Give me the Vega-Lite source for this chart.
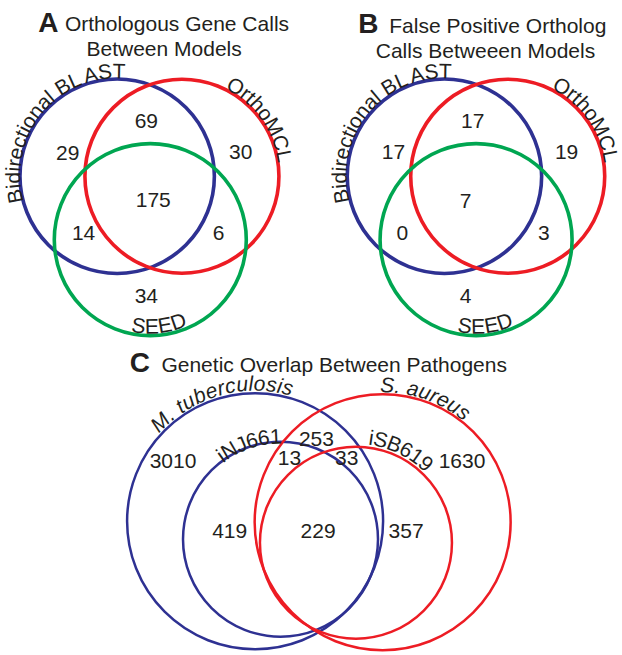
{
  "$schema": "https://vega.github.io/schema/vega-lite/v6.json",
  "width": 622,
  "height": 655,
  "autosize": {"type": "fit", "contains": "padding"},
  "padding": 0,
  "background": "white",
  "config": {"view": {"stroke": null}, "text": {"font": "Liberation Sans", "color": "#231F20"}},
  "datasets": {
    "circles": [
      {"panel": "A", "set": "Bidirectional BLAST", "x": 118.5, "y": 176.5, "r": 97.2},
      {"panel": "A", "set": "OrthoMCL", "x": 184, "y": 176.5, "r": 97},
      {"panel": "A", "set": "SEED", "x": 152, "y": 240, "r": 96},
      {"panel": "B", "set": "Bidirectional BLAST", "x": 449.5, "y": 176.5, "r": 97.2},
      {"panel": "B", "set": "OrthoMCL", "x": 513.5, "y": 176.5, "r": 97},
      {"panel": "B", "set": "SEED", "x": 481.5, "y": 240, "r": 96},
      {"panel": "C", "set": "M. tuberculosis", "x": 258, "y": 522, "r": 128},
      {"panel": "C", "set": "iNJ661", "x": 283.7, "y": 540, "r": 97.5},
      {"panel": "C", "set": "S. aureus", "x": 387, "y": 523, "r": 128},
      {"panel": "C", "set": "iSB619", "x": 360, "y": 543.5, "r": 96}
    ],
    "numbers": [
      {"panel": "A", "label": "69", "x": 148, "y": 122},
      {"panel": "A", "label": "29", "x": 68.5, "y": 154},
      {"panel": "A", "label": "30", "x": 243.5, "y": 153.5},
      {"panel": "A", "label": "175", "x": 155, "y": 201.5},
      {"panel": "A", "label": "14", "x": 84.5, "y": 234},
      {"panel": "A", "label": "6", "x": 221, "y": 234},
      {"panel": "A", "label": "34", "x": 148, "y": 297},
      {"panel": "B", "label": "17", "x": 478, "y": 122},
      {"panel": "B", "label": "17", "x": 398, "y": 153.5},
      {"panel": "B", "label": "19", "x": 573, "y": 153.5},
      {"panel": "B", "label": "7", "x": 471, "y": 202},
      {"panel": "B", "label": "0", "x": 407, "y": 234},
      {"panel": "B", "label": "3", "x": 550, "y": 234},
      {"panel": "B", "label": "4", "x": 471, "y": 297},
      {"panel": "C", "label": "3010", "x": 175, "y": 462.7},
      {"panel": "C", "label": "253", "x": 320, "y": 440.7},
      {"panel": "C", "label": "13", "x": 292.7, "y": 460},
      {"panel": "C", "label": "33", "x": 350.7, "y": 460},
      {"panel": "C", "label": "1630", "x": 467.3, "y": 462.7},
      {"panel": "C", "label": "419", "x": 232.3, "y": 533.3},
      {"panel": "C", "label": "229", "x": 321.7, "y": 533.3},
      {"panel": "C", "label": "357", "x": 410.7, "y": 533.3}
    ],
    "chars": [
      {"set": "BLAST-A", "ch": "B", "x": 16.4, "y": 196.3, "a": -101.0},
      {"set": "BLAST-A", "ch": "i", "x": 15.0, "y": 186.6, "a": -95.6},
      {"set": "BLAST-A", "ch": "d", "x": 14.5, "y": 178.1, "a": -90.9},
      {"set": "BLAST-A", "ch": "i", "x": 14.7, "y": 169.5, "a": -86.2},
      {"set": "BLAST-A", "ch": "r", "x": 15.3, "y": 163.4, "a": -82.8},
      {"set": "BLAST-A", "ch": "e", "x": 17.0, "y": 153.8, "a": -77.4},
      {"set": "BLAST-A", "ch": "c", "x": 20.2, "y": 142.6, "a": -71.0},
      {"set": "BLAST-A", "ch": "t", "x": 23.3, "y": 134.6, "a": -66.3},
      {"set": "BLAST-A", "ch": "i", "x": 25.6, "y": 129.7, "a": -63.2},
      {"set": "BLAST-A", "ch": "o", "x": 29.8, "y": 122.2, "a": -58.5},
      {"set": "BLAST-A", "ch": "n", "x": 36.8, "y": 112.1, "a": -51.8},
      {"set": "BLAST-A", "ch": "a", "x": 45.0, "y": 103.0, "a": -45.0},
      {"set": "BLAST-A", "ch": "l", "x": 51.3, "y": 97.2, "a": -40.3},
      {"set": "BLAST-A", "ch": "B", "x": 64.1, "y": 87.8, "a": -31.5},
      {"set": "BLAST-A", "ch": "L", "x": 76.1, "y": 81.6, "a": -24.1},
      {"set": "BLAST-A", "ch": "A", "x": 91.8, "y": 76.0, "a": -14.9},
      {"set": "BLAST-A", "ch": "S", "x": 106.3, "y": 73.2, "a": -6.8},
      {"set": "BLAST-A", "ch": "T", "x": 120.3, "y": 72.5, "a": 1.0},
      {"set": "OrthoMCL-A", "ch": "O", "x": 237.8, "y": 87.6, "a": 31.2},
      {"set": "OrthoMCL-A", "ch": "r", "x": 247.9, "y": 94.4, "a": 37.9},
      {"set": "OrthoMCL-A", "ch": "t", "x": 253.1, "y": 98.8, "a": 41.6},
      {"set": "OrthoMCL-A", "ch": "h", "x": 259.7, "y": 105.1, "a": 46.7},
      {"set": "OrthoMCL-A", "ch": "o", "x": 267.5, "y": 114.5, "a": 53.4},
      {"set": "OrthoMCL-A", "ch": "M", "x": 275.7, "y": 127.5, "a": 61.8},
      {"set": "OrthoMCL-A", "ch": "C", "x": 282.5, "y": 143.1, "a": 71.3},
      {"set": "OrthoMCL-A", "ch": "L", "x": 286.1, "y": 156.6, "a": 79.0},
      {"set": "SEED-A", "ch": "S", "x": 140.1, "y": 327.2, "a": 7.8},
      {"set": "SEED-A", "ch": "E", "x": 153.6, "y": 328.0, "a": -1.1},
      {"set": "SEED-A", "ch": "E", "x": 167.1, "y": 326.7, "a": -9.9},
      {"set": "SEED-A", "ch": "D", "x": 180.8, "y": 323.2, "a": -19.1},
      {"set": "BLAST-B", "ch": "B", "x": 346.4, "y": 196.3, "a": -101.0},
      {"set": "BLAST-B", "ch": "i", "x": 345.0, "y": 186.6, "a": -95.6},
      {"set": "BLAST-B", "ch": "d", "x": 344.5, "y": 178.1, "a": -90.9},
      {"set": "BLAST-B", "ch": "i", "x": 344.7, "y": 169.5, "a": -86.2},
      {"set": "BLAST-B", "ch": "r", "x": 345.3, "y": 163.4, "a": -82.8},
      {"set": "BLAST-B", "ch": "e", "x": 347.0, "y": 153.8, "a": -77.4},
      {"set": "BLAST-B", "ch": "c", "x": 350.2, "y": 142.6, "a": -71.0},
      {"set": "BLAST-B", "ch": "t", "x": 353.3, "y": 134.6, "a": -66.3},
      {"set": "BLAST-B", "ch": "i", "x": 355.6, "y": 129.7, "a": -63.2},
      {"set": "BLAST-B", "ch": "o", "x": 359.8, "y": 122.2, "a": -58.5},
      {"set": "BLAST-B", "ch": "n", "x": 366.8, "y": 112.1, "a": -51.8},
      {"set": "BLAST-B", "ch": "a", "x": 375.0, "y": 103.0, "a": -45.0},
      {"set": "BLAST-B", "ch": "l", "x": 381.3, "y": 97.2, "a": -40.3},
      {"set": "BLAST-B", "ch": "B", "x": 394.1, "y": 87.8, "a": -31.5},
      {"set": "BLAST-B", "ch": "L", "x": 406.1, "y": 81.6, "a": -24.1},
      {"set": "BLAST-B", "ch": "A", "x": 421.8, "y": 76.0, "a": -14.9},
      {"set": "BLAST-B", "ch": "S", "x": 436.3, "y": 73.2, "a": -6.8},
      {"set": "BLAST-B", "ch": "T", "x": 450.3, "y": 72.5, "a": 1.0},
      {"set": "OrthoMCL-B", "ch": "O", "x": 567.8, "y": 87.6, "a": 31.2},
      {"set": "OrthoMCL-B", "ch": "r", "x": 577.9, "y": 94.4, "a": 37.9},
      {"set": "OrthoMCL-B", "ch": "t", "x": 583.1, "y": 98.8, "a": 41.6},
      {"set": "OrthoMCL-B", "ch": "h", "x": 589.7, "y": 105.1, "a": 46.7},
      {"set": "OrthoMCL-B", "ch": "o", "x": 597.5, "y": 114.5, "a": 53.4},
      {"set": "OrthoMCL-B", "ch": "M", "x": 605.7, "y": 127.5, "a": 61.8},
      {"set": "OrthoMCL-B", "ch": "C", "x": 612.5, "y": 143.1, "a": 71.3},
      {"set": "OrthoMCL-B", "ch": "L", "x": 616.1, "y": 156.6, "a": 79.0},
      {"set": "SEED-B", "ch": "S", "x": 470.1, "y": 327.2, "a": 7.8},
      {"set": "SEED-B", "ch": "E", "x": 483.6, "y": 328.0, "a": -1.1},
      {"set": "SEED-B", "ch": "E", "x": 497.1, "y": 326.7, "a": -9.9},
      {"set": "SEED-B", "ch": "D", "x": 510.8, "y": 323.2, "a": -19.1},
      {"set": "M. tuberculosis", "ch": "M", "x": 162.8, "y": 423.8, "a": -44.1},
      {"set": "M. tuberculosis", "ch": ".", "x": 172.3, "y": 415.4, "a": -38.8},
      {"set": "M. tuberculosis", "ch": "t", "x": 182.6, "y": 407.9, "a": -33.5},
      {"set": "M. tuberculosis", "ch": "u", "x": 190.7, "y": 402.9, "a": -29.5},
      {"set": "M. tuberculosis", "ch": "b", "x": 202.1, "y": 397.2, "a": -24.1},
      {"set": "M. tuberculosis", "ch": "e", "x": 213.9, "y": 392.5, "a": -18.8},
      {"set": "M. tuberculosis", "ch": "r", "x": 223.6, "y": 389.6, "a": -14.6},
      {"set": "M. tuberculosis", "ch": "c", "x": 232.9, "y": 387.6, "a": -10.6},
      {"set": "M. tuberculosis", "ch": "u", "x": 244.9, "y": 385.8, "a": -5.5},
      {"set": "M. tuberculosis", "ch": "l", "x": 253.7, "y": 385.3, "a": -1.8},
      {"set": "M. tuberculosis", "ch": "o", "x": 262.6, "y": 385.3, "a": 1.9},
      {"set": "M. tuberculosis", "ch": "s", "x": 274.6, "y": 386.2, "a": 7.0},
      {"set": "M. tuberculosis", "ch": "i", "x": 282.8, "y": 387.5, "a": 10.4},
      {"set": "M. tuberculosis", "ch": "s", "x": 290.8, "y": 389.2, "a": 13.9},
      {"set": "S. aureus", "ch": "S", "x": 391.5, "y": 386.9, "a": 1.9},
      {"set": "S. aureus", "ch": ".", "x": 402.1, "y": 387.6, "a": 6.4},
      {"set": "S. aureus", "ch": "a", "x": 417.5, "y": 390.3, "a": 12.9},
      {"set": "S. aureus", "ch": "u", "x": 429.5, "y": 393.6, "a": 18.2},
      {"set": "S. aureus", "ch": "r", "x": 438.8, "y": 397.1, "a": 22.4},
      {"set": "S. aureus", "ch": "e", "x": 448.0, "y": 401.2, "a": 26.6},
      {"set": "S. aureus", "ch": "u", "x": 458.7, "y": 407.2, "a": 31.8},
      {"set": "S. aureus", "ch": "s", "x": 468.6, "y": 413.9, "a": 36.8},
      {"set": "iNJ661", "ch": "i", "x": 223.9, "y": 457.6, "a": -35.9},
      {"set": "iNJ661", "ch": "N", "x": 232.5, "y": 452.0, "a": -30.2},
      {"set": "iNJ661", "ch": "J", "x": 244.3, "y": 446.1, "a": -22.7},
      {"set": "iNJ661", "ch": "6", "x": 255.1, "y": 442.3, "a": -16.3},
      {"set": "iNJ661", "ch": "6", "x": 266.9, "y": 439.6, "a": -9.5},
      {"set": "iNJ661", "ch": "1", "x": 278.9, "y": 438.3, "a": -2.7},
      {"set": "iSB619", "ch": "i", "x": 375.4, "y": 439.6, "a": 8.4},
      {"set": "iSB619", "ch": "S", "x": 384.8, "y": 441.5, "a": 13.6},
      {"set": "iSB619", "ch": "B", "x": 398.5, "y": 445.8, "a": 21.5},
      {"set": "iSB619", "ch": "6", "x": 410.4, "y": 451.4, "a": 28.7},
      {"set": "iSB619", "ch": "1", "x": 420.6, "y": 457.8, "a": 35.3},
      {"set": "iSB619", "ch": "9", "x": 430.0, "y": 465.2, "a": 41.8}
    ],
    "letters": [
      {"text": "A", "x": 49, "y": 32},
      {"text": "B", "x": 372.5, "y": 33.3},
      {"text": "C", "x": 141.5, "y": 373}
    ],
    "titles": [
      {"text": "Orthologous Gene Calls", "x": 179, "y": 31.5},
      {"text": "Between Models", "x": 166, "y": 56},
      {"text": "False Positive Ortholog", "x": 503.5, "y": 33.3},
      {"text": "Calls Betweeen Models", "x": 491, "y": 58.3},
      {"text": "Genetic Overlap Between Pathogens", "x": 338, "y": 373}
    ]
  },
  "encoding": {
    "x": {"field": "x", "type": "quantitative", "scale": {"domain": [0, 622], "nice": false, "zero": false}, "axis": null},
    "y": {"field": "y", "type": "quantitative", "scale": {"domain": [0, 655], "nice": false, "zero": false, "reverse": true}, "axis": null}
  },
  "layer": [
    {
      "data": {"name": "circles"},
      "transform": [{"filter": "datum.panel != 'C'"}],
      "mark": {"type": "point", "shape": "circle", "filled": false, "opacity": 1, "strokeWidth": 3.6},
      "encoding": {
        "size": {"field": "r", "type": "quantitative", "scale": {"type": "pow", "exponent": 2, "domain": [0, 200], "range": [0, 160000]}, "legend": null},
        "color": {"field": "set", "type": "nominal", "legend": null,
          "scale": {"domain": ["Bidirectional BLAST", "OrthoMCL", "SEED", "M. tuberculosis", "iNJ661", "S. aureus", "iSB619"],
                    "range": ["#2E3192", "#ED1C24", "#00A651", "#2E3192", "#2E3192", "#ED1C24", "#ED1C24"]}}
      }
    },
    {
      "data": {"name": "circles"},
      "transform": [{"filter": "datum.panel == 'C'"}],
      "mark": {"type": "point", "shape": "circle", "filled": false, "opacity": 1, "strokeWidth": 2.5},
      "encoding": {
        "size": {"field": "r", "type": "quantitative", "scale": {"type": "pow", "exponent": 2, "domain": [0, 200], "range": [0, 160000]}, "legend": null},
        "color": {"field": "set", "type": "nominal", "legend": null,
          "scale": {"domain": ["Bidirectional BLAST", "OrthoMCL", "SEED", "M. tuberculosis", "iNJ661", "S. aureus", "iSB619"],
                    "range": ["#2E3192", "#ED1C24", "#00A651", "#2E3192", "#2E3192", "#ED1C24", "#ED1C24"]}}
      }
    },
    {
      "data": {"name": "numbers"},
      "mark": {"type": "text", "fontSize": 21, "align": "center", "baseline": "middle"},
      "encoding": {"text": {"field": "label", "type": "nominal"}}
    },
    {
      "data": {"name": "chars"},
      "transform": [{"filter": "datum.set != 'M. tuberculosis' && datum.set != 'S. aureus'"}],
      "mark": {"type": "text", "fontSize": 21, "align": "center", "baseline": "middle"},
      "encoding": {
        "text": {"field": "ch", "type": "nominal"},
        "angle": {"field": "a", "type": "quantitative", "scale": null}
      }
    },
    {
      "data": {"name": "chars"},
      "transform": [{"filter": "datum.set == 'M. tuberculosis' || datum.set == 'S. aureus'"}],
      "mark": {"type": "text", "fontSize": 21, "fontStyle": "italic", "align": "center", "baseline": "middle"},
      "encoding": {
        "text": {"field": "ch", "type": "nominal"},
        "angle": {"field": "a", "type": "quantitative", "scale": null}
      }
    },
    {
      "data": {"name": "letters"},
      "mark": {"type": "text", "fontSize": 28, "fontWeight": "bold", "align": "center", "baseline": "alphabetic"},
      "encoding": {"text": {"field": "text", "type": "nominal"}}
    },
    {
      "data": {"name": "titles"},
      "mark": {"type": "text", "fontSize": 21, "align": "center", "baseline": "alphabetic"},
      "encoding": {"text": {"field": "text", "type": "nominal"}}
    }
  ]
}
